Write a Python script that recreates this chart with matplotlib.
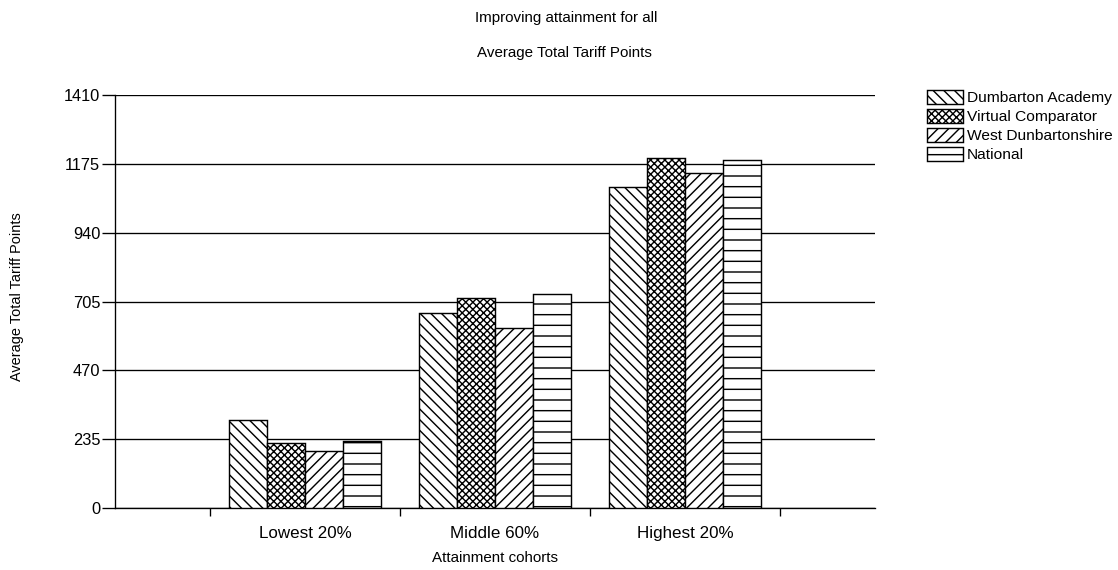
import matplotlib
matplotlib.use("Agg")
import matplotlib.pyplot as plt
import numpy as np

plt.rcParams['font.family'] = ['Liberation Sans', 'DejaVu Sans']
plt.rcParams['hatch.color'] = 'black'
plt.rcParams['hatch.linewidth'] = 0.8

cohorts = ['Lowest 20%', 'Middle 60%', 'Highest 20%']
series = ['Dumbarton Academy', 'Virtual Comparator', 'West Dunbartonshire', 'National']
dumbarton = [300, 665, 1095]
virtual = [221, 716, 1194]
west = [196, 615, 1143]
national = [229, 731, 1188]
yticks = [0, 235, 470, 705, 940, 1175, 1410]

values = [dumbarton, virtual, west, national]
hatches = ['\\\\\\\\', 'xxxxxx', '////', '--']

dpi = 128
fig = plt.figure(figsize=(1118 / dpi, 570 / dpi), dpi=dpi)
ax = fig.add_axes([115 / 1118, 62 / 570, 760 / 1118, 413 / 570])

x = np.arange(1, len(cohorts) + 1)
w = 0.2
for i, (name, vals, h) in enumerate(zip(series, values, hatches)):
    ax.bar(x + (i - 1.5) * w, vals, w, facecolor='white', edgecolor='black',
           linewidth=0.8, hatch=h, label=name, zorder=3)

ax.set_xlim(0, 4)
ax.set_ylim(0, 1410)
ax.set_yticks(yticks)
ax.set_xticks(x)
ax.set_xticklabels(cohorts, fontsize=9.6)
ax.set_xticks(np.arange(0.5, 4, 1), minor=True)
ax.tick_params(axis='x', which='major', length=0, pad=10)
ax.tick_params(axis='x', which='minor', length=4.5, width=0.75)
ax.tick_params(axis='y', length=7.3, width=0.75, labelsize=9.2, pad=1)
ax.yaxis.grid(True, color='black', linewidth=0.75, zorder=0)
ax.set_axisbelow(True)
for s in ['top', 'right']:
    ax.spines[s].set_visible(False)
for s in ['left', 'bottom']:
    ax.spines[s].set_linewidth(0.75)

ax.set_xlabel('Attainment cohorts', fontsize=8.5)
ax.xaxis.set_label_coords(0.5, -(558 - 508) / 413, transform=ax.transAxes)
ax.xaxis.label.set_va('center')
ax.set_ylabel('Average Total Tariff Points', fontsize=8.2)
ax.yaxis.set_label_coords(-(115 - 17) / 760, (508 - 297) / 413, transform=ax.transAxes)
ax.yaxis.label.set_va('center')

fig.text(566 / 1118, 1 - 18 / 570, 'Improving attainment for all', ha='center', va='center', fontsize=8.5)
fig.text(564 / 1118, 1 - 53 / 570, 'Average Total Tariff Points', ha='center', va='center', fontsize=8.5)

fig.legend(loc='upper left', bbox_to_anchor=(927 / 1118, 1 - 90 / 570), frameon=False,
           fontsize=8.7, borderaxespad=0, borderpad=0, handlelength=2.3,
           handleheight=1.0, handletextpad=0.3, labelspacing=0.25)

fig.savefig('out.png', dpi=dpi)
